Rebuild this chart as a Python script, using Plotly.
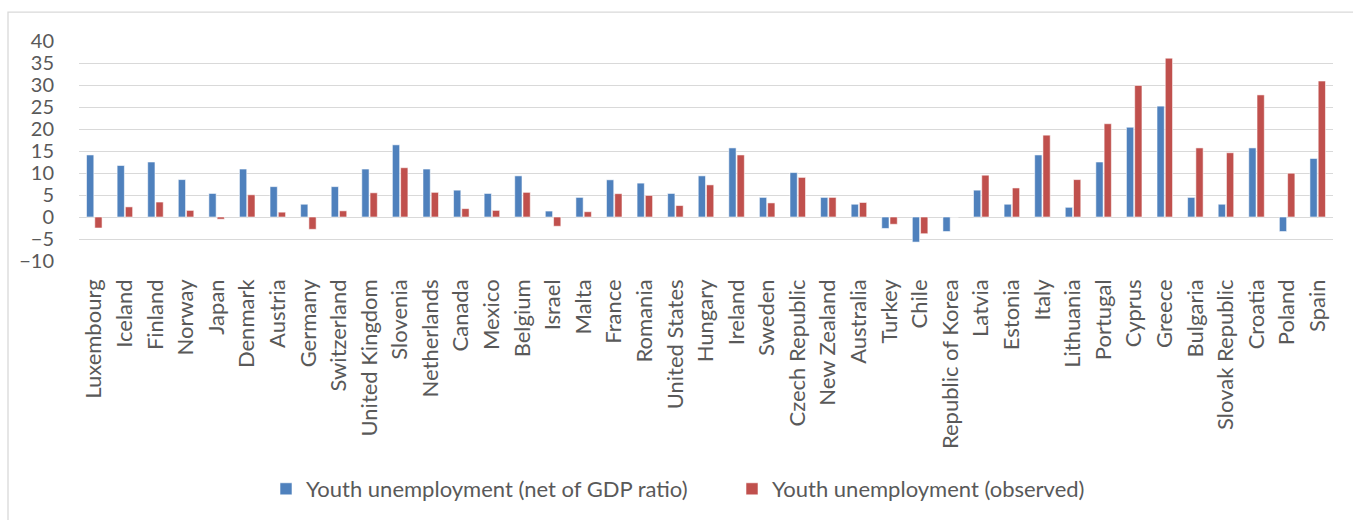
import plotly.graph_objects as go

countries = ["Luxembourg", "Iceland", "Finland", "Norway", "Japan", "Denmark", "Austria",
             "Germany", "Switzerland", "United Kingdom", "Slovenia", "Netherlands", "Canada",
             "Mexico", "Belgium", "Israel", "Malta", "France", "Romania", "United States",
             "Hungary", "Ireland", "Sweden", "Czech Republic", "New Zealand", "Australia",
             "Turkey", "Chile", "Republic of Korea", "Latvia", "Estonia", "Italy", "Lithuania",
             "Portugal", "Cyprus", "Greece", "Bulgaria", "Slovak Republic", "Croatia",
             "Poland", "Spain"]

net_of_gdp = [14.1, 11.7, 12.5, 8.5, 5.35, 10.9, 6.9, 2.9, 6.9, 10.9, 16.4, 10.9, 6.1,
              5.35, 9.35, 1.35, 4.45, 8.45, 7.7, 5.35, 9.35, 15.7, 4.45, 10.1, 4.45, 2.9,
              -2.6, -5.7, -3.3, 6.1, 2.9, 14.1, 2.2, 12.5, 20.4, 25.2, 4.45, 2.9, 15.7,
              -3.3, 13.3]

observed = [-2.5, 2.3, 3.4, 1.5, -0.5, 5.05, 1.1, -2.8, 1.4, 5.5, 11.2, 5.6, 1.9,
            1.5, 5.6, -2.1, 1.2, 5.3, 4.9, 2.6, 7.3, 14.1, 3.2, 9.0, 4.45, 3.3,
            -1.65, -3.8, 0.0, 9.5, 6.6, 18.6, 8.5, 21.2, 29.9, 36.1, 15.7, 14.6, 27.75,
            9.95, 30.9]

y_ticks = [-10, -5, 0, 5, 10, 15, 20, 25, 30, 35, 40]

series_names = ["Youth unemployment (net of GDP ratio)", "Youth unemployment (observed)"]
colors = ["#4F81BD", "#C0504D"]
FONT = "Lato"
TXT = "#595959"
GRID = "#D9D9D9"

fig = go.Figure()
fig.add_trace(go.Bar(x=countries, y=net_of_gdp, name=series_names[0],
                     marker=dict(color=colors[0], line=dict(color="rgba(255,255,255,0.7)", width=0.8)),
                     legend="legend"))
fig.add_trace(go.Bar(x=countries, y=observed, name=series_names[1],
                     marker=dict(color=colors[1], line=dict(color="rgba(255,255,255,0.7)", width=0.8)),
                     legend="legend2"))

W, H = 1353, 520
ml, mr, mt, mb = 79, 20, 41, 258
pw = W - ml - mr
ph = H - mt - mb

def px_x(x):
    return (x - ml) / pw

def px_y(y):
    return (H - mb - y) / ph

fig.update_layout(
    width=W, height=H,
    margin=dict(l=ml, r=mr, t=mt, b=mb, pad=0),
    paper_bgcolor="white", plot_bgcolor="white",
    barmode="group", bargap=0.46, bargroupgap=0.12,
    font=dict(family=FONT, size=20, color=TXT),
    showlegend=True,
    legend=dict(orientation="h", x=px_x(266), xanchor="left", y=px_y(489), yanchor="middle",
                font=dict(family=FONT, size=22, color=TXT), bgcolor="rgba(0,0,0,0)"),
    legend2=dict(orientation="h", x=px_x(732), xanchor="left", y=px_y(489), yanchor="middle",
                 font=dict(family=FONT, size=22, color=TXT), bgcolor="rgba(0,0,0,0)"),
    xaxis=dict(type="category", tickangle=-90, showgrid=False, showline=False, ticks="",
               tickfont=dict(family=FONT, size=22, color=TXT), ticklabelstandoff=13,
               automargin=False),
    yaxis=dict(range=[-10, 40], tickvals=y_ticks, showgrid=True, gridcolor=GRID, gridwidth=1.3,
               zeroline=True, zerolinecolor=GRID, zerolinewidth=1.3, showline=False, ticks="",
               tickfont=dict(family=FONT, size=20, color=TXT), ticklabelstandoff=24,
               automargin=False),
    shapes=[dict(type="rect", xref="paper", yref="paper",
                 x0=px_x(8), x1=px_x(1400), y0=px_y(560), y1=px_y(12),
                 line=dict(color=GRID, width=1.3), fillcolor="rgba(0,0,0,0)", layer="below")],
)

fig.write_html("out.html")
